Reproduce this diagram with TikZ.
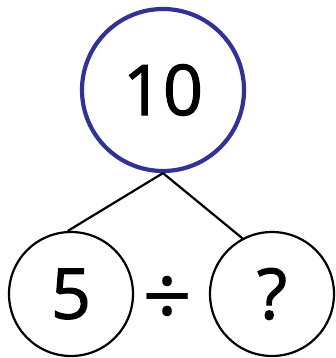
\documentclass[tikz,border=0pt]{standalone}
\usepackage{fontspec}
\setmainfont[FakeBold=1.6]{Open Sans}
\newfontfamily\opfont{Open Sans}
\definecolor{cring}{RGB}{48,50,148}

\begin{document}
\begin{tikzpicture}[x=1pt,y=-1pt,
    numfont/.style={font=\fontsize{70}{70}\selectfont},
    bigring/.style={circle,draw=cring,line width=4.2pt,minimum size=162pt,inner sep=0pt,numfont},
    smallring/.style={circle,draw,line width=2.2pt,minimum size=124pt,inner sep=0pt,numfont},
    branch/.style={line width=2.2pt}]
  \useasboundingbox (0,0) rectangle (335,358);
  % whole and parts
  \node[bigring] (whole) at (163,90) {10};
  \node[smallring] (partA) at (71,294) {5};
  \node[smallring] (partB) at (272,294) {?};
  \node[font=\opfont\fontsize{88}{88}\selectfont,inner sep=0pt] (op) at (168,302) {÷};
  % branches
  \draw[branch] (whole.south) -- (partA.93);
  \draw[branch] (whole.south) -- (partB.118);
\end{tikzpicture}
\end{document}
